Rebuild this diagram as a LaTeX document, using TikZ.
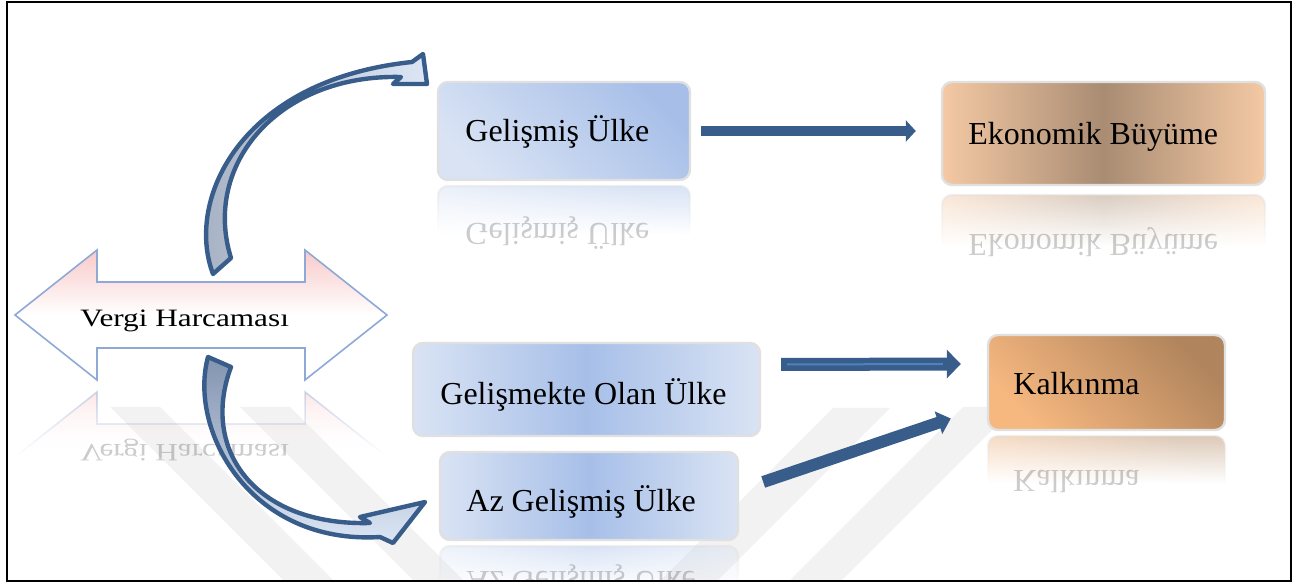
\documentclass[tikz,border=0pt]{standalone}
\usepackage{fontspec}
\setmainfont{Liberation Serif}
\usetikzlibrary{arrows.meta,calc,fadings}

\definecolor{arrowblue}{HTML}{385D8A}
\definecolor{innerblue}{HTML}{4F81BD}
\definecolor{bluedark}{HTML}{A7BFE8}
\definecolor{bluelight}{HTML}{D9E3F4}
\definecolor{peach}{HTML}{F4C9A4}
\definecolor{brownmid}{HTML}{A98C73}
\definecolor{orangelight}{HTML}{F7B880}
\definecolor{orangedark}{HTML}{B0845C}
\definecolor{pinktop}{HTML}{F9C9C9}
\definecolor{arrowedge}{HTML}{8EA9D6}
\definecolor{tailgray}{HTML}{A3AEC0}
\definecolor{tailgraydark}{HTML}{8394B0}
\definecolor{headblue}{HTML}{DCE6F5}
\definecolor{wmark}{HTML}{F2F2F2}

\tikzfading[name=reflfade, top color=transparent!55, bottom color=transparent!100, middle color=transparent!100]

\tikzset{
  cbox/.style={rounded corners=5pt, draw=black!12, line width=1.2pt, inner sep=0pt},
  bluebox/.style={cbox, top color=bluedark, bottom color=bluelight, shading angle=-45},
  midbluebox/.style={cbox, left color=bluelight, right color=bluelight, middle color=bluedark},
  brownbox/.style={cbox, left color=peach, right color=peach, middle color=brownmid},
  orangebox/.style={cbox, top color=orangedark, bottom color=orangelight, shading angle=-45},
  lbl/.style={font=\fontsize{16}{19}\selectfont, anchor=base west, inner sep=0pt},
  mirror/.style={lbl, text opacity=0.2},
  vlbl/.style={lbl, font=\fontsize{12.5}{15}\selectfont},
  fatarrow/.style={draw=arrowblue, line width=5pt, -{Triangle[width=10.5pt,length=5pt]}},
  dblarrow/.style={draw=arrowblue, line width=6.5pt, -{Triangle[width=14pt,length=7pt]}},
  slantarrow/.style={draw=arrowblue, line width=6pt, -{Triangle[width=11.5pt,length=6.5pt]}},
  curvearrow/.style={draw=arrowblue, line width=2.2pt, line join=round},
  varrow/.style={draw=arrowedge, line width=0.8pt, top color=pinktop, bottom color=white, middle color=white}
}

\begin{document}
\begin{tikzpicture}[x=0.5pt,y=-0.5pt]
  \useasboundingbox (0,0) rectangle (1298,587);

  \begin{scope}
    \clip (7,2) rectangle (1291,581);
    % watermark
    \fill[wmark] (110,407) -- (160,407) -- (340,587) -- (290,587) -- cycle;
    \fill[wmark] (240,407) -- (290,407) -- (470,587) -- (420,587) -- cycle;
    \fill[wmark] (833,408) -- (890,408) -- (711,587) -- (654,587) -- cycle;
    \fill[wmark] (963,407) -- (1015,407) -- (835,587) -- (783,587) -- cycle;

    % reflections
    \draw[varrow, path fading=reflfade] (15,457) -- (97,392) -- (97,424) -- (305,424) -- (305,392)
      -- (387,457) -- (305,522) -- (305,490) -- (97,490) -- (97,522) -- cycle;
    \node[bluebox, path fading=reflfade, minimum width=126pt, minimum height=49pt] (gelismisR) at (564,235) {};
    \node[brownbox, path fading=reflfade, minimum width=161.5pt, minimum height=51.5pt] (ekonomikR) at (1103.5,246.5) {};
    \node[orangebox, path fading=reflfade, minimum width=118.5pt, minimum height=47.5pt] (kalkinmaR) at (1106.5,483.5) {};
    \node[midbluebox, path fading=reflfade, minimum width=149pt, minimum height=44pt] (azR) at (589,590) {};
    \node[vlbl, text opacity=0.2] (vergiR) at (80,445) {\scalebox{1.25}[-1]{Vergi Harcaması}};
    \node[mirror] (gelismisRT) at (465,224) {\scalebox{1}[-1]{Gelişmiş Ülke}};
    \node[mirror] (ekonomikRT) at (968,235) {\scalebox{1}[-1]{Ekonomik Büyüme}};
    \node[mirror] (kalkinmaRT) at (1013,471) {\scalebox{1}[-1]{Kalkınma}};
    \node[mirror] (azRT) at (466,572) {\scalebox{1}[-1]{Az Gelişmiş Ülke}};
  \end{scope}

  % tax expenditure double arrow
  \draw[varrow] (15,315) -- (97,250) -- (97,282) -- (305,282) -- (305,250) -- (387,315)
    -- (305,380) -- (305,348) -- (97,348) -- (97,380) -- cycle;
  \node[vlbl] (vergi) at (80,327) {\scalebox{1.25}[1]{Vergi Harcaması}};

  % boxes
  \node[bluebox, minimum width=126pt, minimum height=49pt] (gelismis) at (564,131) {};
  \node[lbl] (gelismisT) at (465,142) {Gelişmiş Ülke};
  \node[brownbox, minimum width=161.5pt, minimum height=51.5pt] (ekonomik) at (1103.5,133.5) {};
  \node[lbl] (ekonomikT) at (968,145) {Ekonomik Büyüme};
  \node[midbluebox, minimum width=173.5pt, minimum height=46.5pt] (gelismekte) at (586.5,389.5) {};
  \node[lbl] (gelismekteT) at (440,405) {Gelişmekte Olan Ülke};
  \node[midbluebox, minimum width=149pt, minimum height=44pt] (az) at (589,496) {};
  \node[lbl] (azT) at (466,512) {Az Gelişmiş Ülke};
  \node[orangebox, minimum width=118.5pt, minimum height=47.5pt] (kalkinma) at (1106.5,382.5) {};
  \node[lbl] (kalkinmaT) at (1013,395) {Kalkınma};

  % straight arrows
  \draw[fatarrow, shorten <=5pt, shorten >=12.5pt] (gelismis.east) -- (gelismis.east -| ekonomik.west);
  \draw[dblarrow] ($(gelismekte.east)+(20,-25)$) -- ($(kalkinma.west)+(-26,-18.5)$);
  \draw[innerblue, line width=1pt] ($(gelismekte.east)+(26,-25)$) -- ($(kalkinma.west)+(-44,-18.5)$);
  \draw[slantarrow] ($(az.east)+(24,-14)$) -- ($(kalkinma.west)+(-36,36)$);

  % curved arrows
  \draw[curvearrow, left color=tailgray, right color=headblue]
    (213,274) .. controls (185,200) and (240,80) .. (412,62) -- (423,54) -- (427,84) -- (393,84)
    -- (401,77) .. controls (278,74) and (202,165) .. (231,258) -- cycle;
  \draw[curvearrow, top color=tailgraydark, bottom color=headblue]
    (208,357) .. controls (188,430) and (250,545) .. (380,537) -- (393,543) -- (425,502) -- (360,517)
    -- (370,523) .. controls (255,526) and (200,450) .. (231,367) -- cycle;

  % frame
  \draw[line width=1.2pt] (7,2) rectangle (1291,581);
\end{tikzpicture}
\end{document}
